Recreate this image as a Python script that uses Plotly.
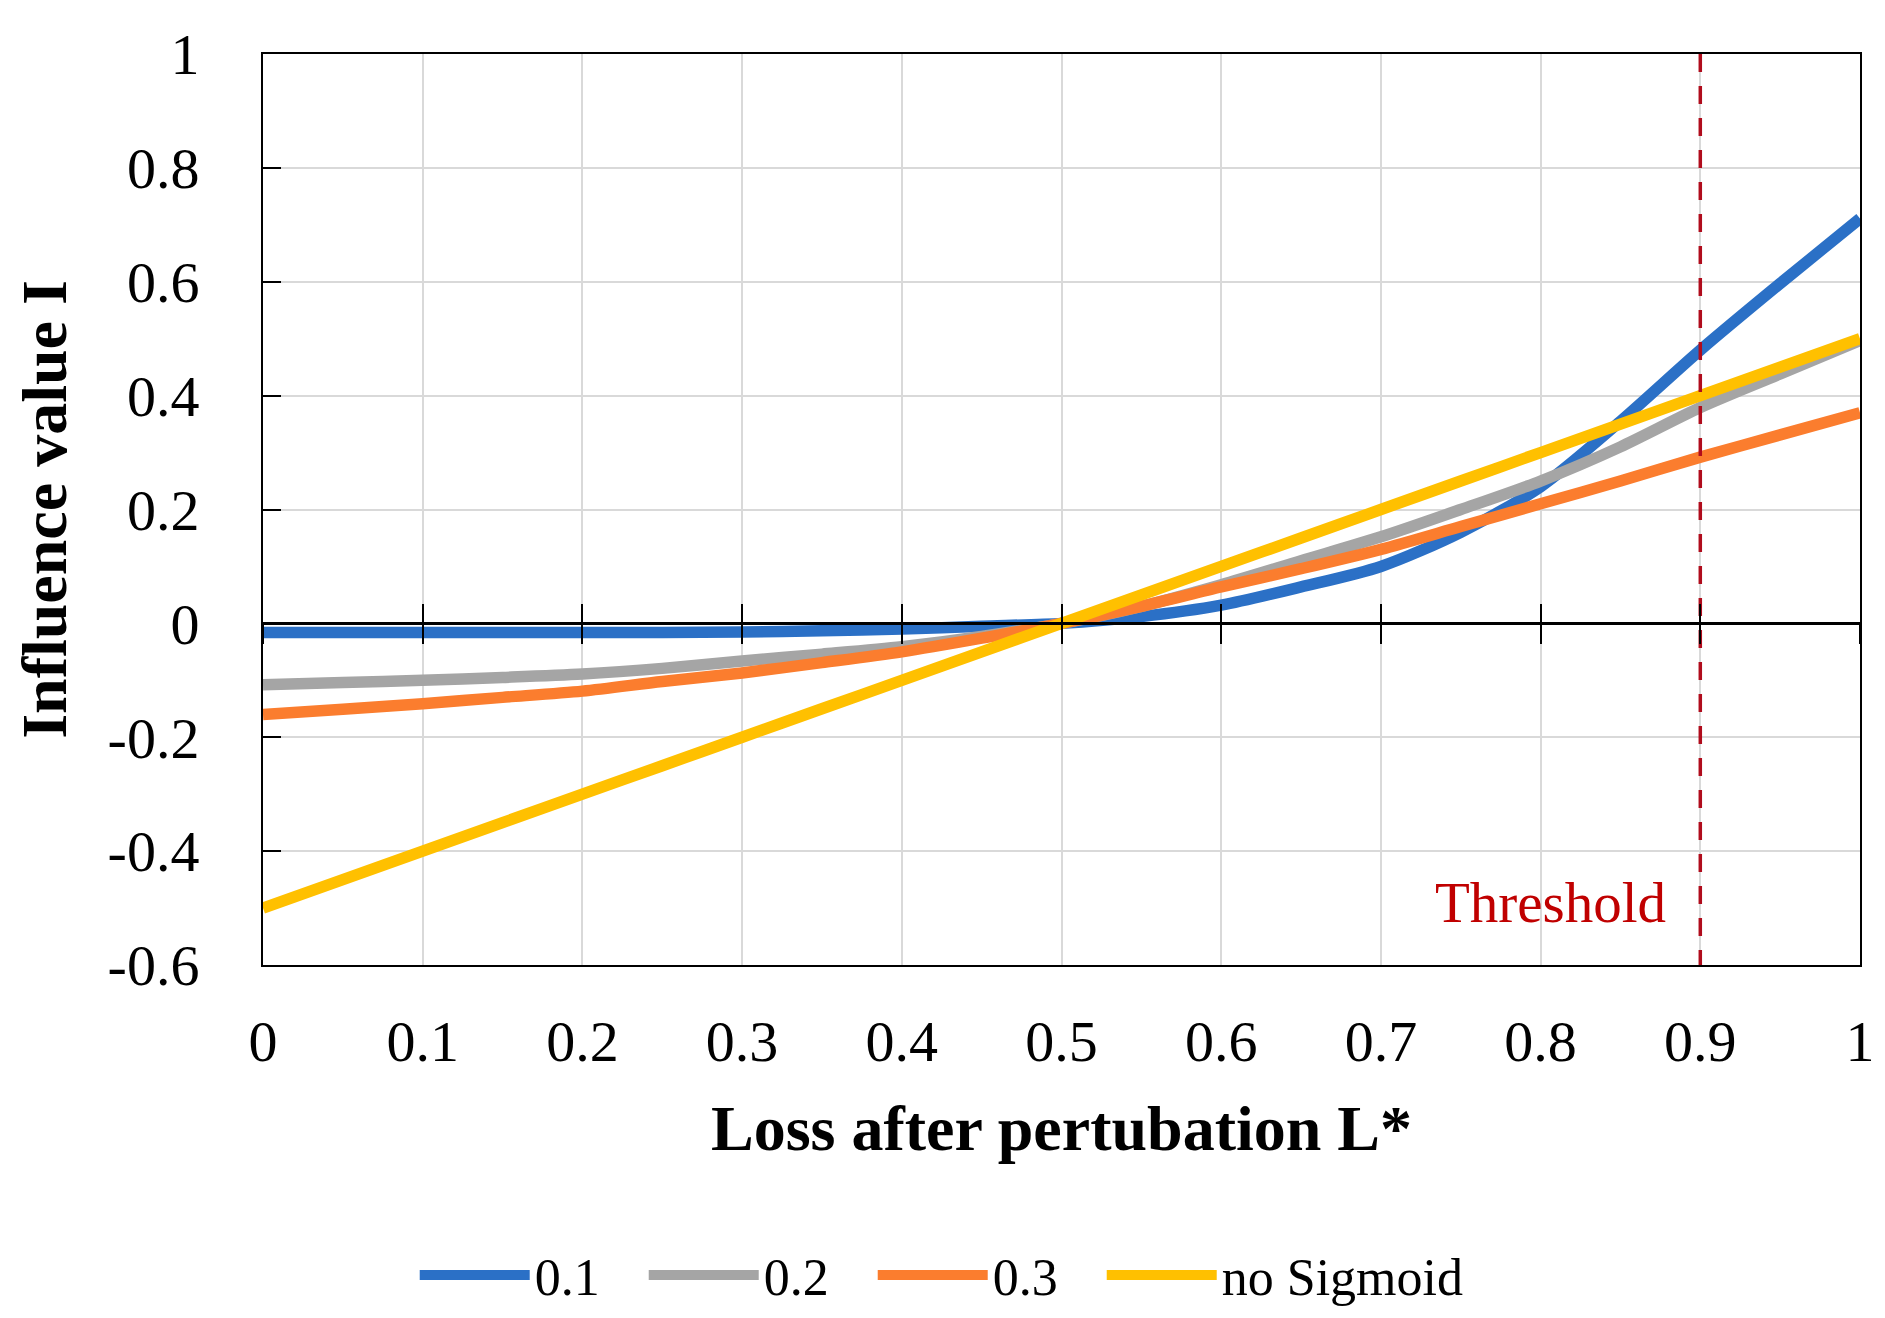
import plotly.graph_objects as go

# ---------------- data ----------------
loss = [0.0, 0.05, 0.1, 0.15, 0.2, 0.25, 0.3, 0.35, 0.4, 0.45, 0.5,
        0.55, 0.6, 0.65, 0.7, 0.75, 0.8, 0.85, 0.9, 0.95, 1.0]

infl_01 = [-0.016, -0.016, -0.016, -0.016, -0.016, -0.016, -0.015, -0.013, -0.010, -0.005, 0.0,
           0.012, 0.032, 0.064, 0.100, 0.160, 0.240, 0.355, 0.480, 0.597, 0.711]
infl_02 = [-0.108, -0.104, -0.100, -0.095, -0.089, -0.079, -0.066, -0.054, -0.041, -0.023, 0.0,
           0.030, 0.068, 0.110, 0.152, 0.200, 0.250, 0.310, 0.379, 0.438, 0.497]
infl_03 = [-0.160, -0.151, -0.141, -0.130, -0.119, -0.102, -0.087, -0.069, -0.050, -0.026, 0.0,
           0.030, 0.064, 0.096, 0.130, 0.170, 0.210, 0.250, 0.292, 0.331, 0.370]
infl_nosig = [-0.5, -0.45, -0.4, -0.35, -0.3, -0.25, -0.2, -0.15, -0.1, -0.05, 0.0,
              0.05, 0.1, 0.15, 0.2, 0.25, 0.3, 0.35, 0.4, 0.45, 0.5]

series_names = ["0.1", "0.2", "0.3", "no Sigmoid"]
series_values = [infl_01, infl_02, infl_03, infl_nosig]
series_colors = ["#2B70C6", "#A5A5A5", "#FB7D2E", "#FFC000"]

threshold_x = 0.9
threshold_y = [1.0, -0.62]
threshold_label = "Threshold"

x_tick_vals = [0, 0.1, 0.2, 0.3, 0.4, 0.5, 0.6, 0.7, 0.8, 0.9, 1.0]
x_tick_text = ["0", "0.1", "0.2", "0.3", "0.4", "0.5", "0.6", "0.7", "0.8", "0.9", "1"]
y_tick_vals = [1.0, 0.8, 0.6, 0.4, 0.2, 0.0, -0.2, -0.4, -0.6]
y_tick_text = ["1", "0.8", "0.6", "0.4", "0.2", "0", "-0.2", "-0.4", "-0.6"]

x_title = "Loss after pertubation L*"
y_title = "Influence value I"

x_range = [0, 1]
y_range = [-0.6, 1]

# ---------------- figure ----------------
FONT = "Liberation Serif, Times New Roman, serif"
PAD = "\u00a0" * 3  # spacing between legend entries
fig = go.Figure()

n_series = len(series_names)
for i, (name, vals, col) in enumerate(zip(series_names, series_values, series_colors)):
    label = name + (PAD if i < n_series - 1 else "")
    fig.add_trace(go.Scatter(
        x=loss, y=vals, name=label, mode="lines",
        line=dict(color=col, width=11.5, shape="spline", smoothing=0.8),
        hovertemplate=name + ": %{x}, %{y}<extra></extra>",
    ))

# threshold dashed line
fig.add_trace(go.Scatter(
    x=[threshold_x, threshold_x], y=threshold_y, mode="lines",
    line=dict(color="#B00C1C", width=3.5, dash="18px,14px"),
    showlegend=False, cliponaxis=False, hoverinfo="skip",
))

# invisible traces to carry the crossing tick axes at y = 0
for ax in ["x2", "x3"]:
    fig.add_trace(go.Scatter(x=x_range, y=[0, 0], xaxis=ax, yaxis="y", mode="lines",
                             line=dict(width=0), showlegend=False, hoverinfo="skip",
                             opacity=0))

zero_pos = (0 - y_range[0]) / (y_range[1] - y_range[0])

fig.update_layout(
    width=1885, height=1318,
    margin=dict(l=255, r=33, t=46, b=360),
    paper_bgcolor="white", plot_bgcolor="white",
    font=dict(family=FONT, color="black", size=58),
    showlegend=True,
    legend=dict(orientation="h", x=0.425, xanchor="center", y=-0.339, yanchor="middle",
                font=dict(family=FONT, size=52), itemwidth=110,
                bgcolor="rgba(0,0,0,0)", traceorder="normal"),
    xaxis=dict(range=x_range, tickvals=x_tick_vals, ticktext=x_tick_text,
               showgrid=True, gridcolor="#D9D9D9", gridwidth=2,
               showline=True, linecolor="black", linewidth=2, mirror=True,
               ticks="", zeroline=False, ticklabelstandoff=24,
               tickfont=dict(family=FONT, size=58),
               title=dict(text="<b>" + x_title + "</b>", standoff=33,
                          font=dict(family=FONT, size=64))),
    xaxis2=dict(range=x_range, overlaying="x", anchor="free", position=zero_pos,
                tickvals=x_tick_vals, showticklabels=False, ticks="outside",
                ticklen=19, tickwidth=2, tickcolor="black",
                showline=True, linecolor="black", linewidth=2.5,
                showgrid=False, zeroline=False),
    xaxis3=dict(range=x_range, overlaying="x", anchor="free", position=zero_pos,
                tickvals=x_tick_vals, showticklabels=False, ticks="inside",
                ticklen=19, tickwidth=2, tickcolor="black",
                showline=False, showgrid=False, zeroline=False),
    yaxis=dict(range=y_range, tickvals=y_tick_vals, ticktext=y_tick_text,
               showgrid=True, gridcolor="#D9D9D9", gridwidth=2,
               showline=True, linecolor="black", linewidth=2, mirror=True,
               ticks="inside", ticklen=18, tickwidth=2, tickcolor="black",
               zeroline=False, ticklabelstandoff=50,
               tickfont=dict(family=FONT, size=58),
               title=dict(text="<b>" + y_title + "</b>", standoff=20,
                          font=dict(family=FONT, size=64))),
)

fig.add_annotation(
    x=threshold_x - 0.02, y=-0.49, xref="x", yref="y",
    text=threshold_label, showarrow=False, xanchor="right", yanchor="middle",
    font=dict(family=FONT, size=57, color="#C00000"),
)

fig.write_html("out.html")
